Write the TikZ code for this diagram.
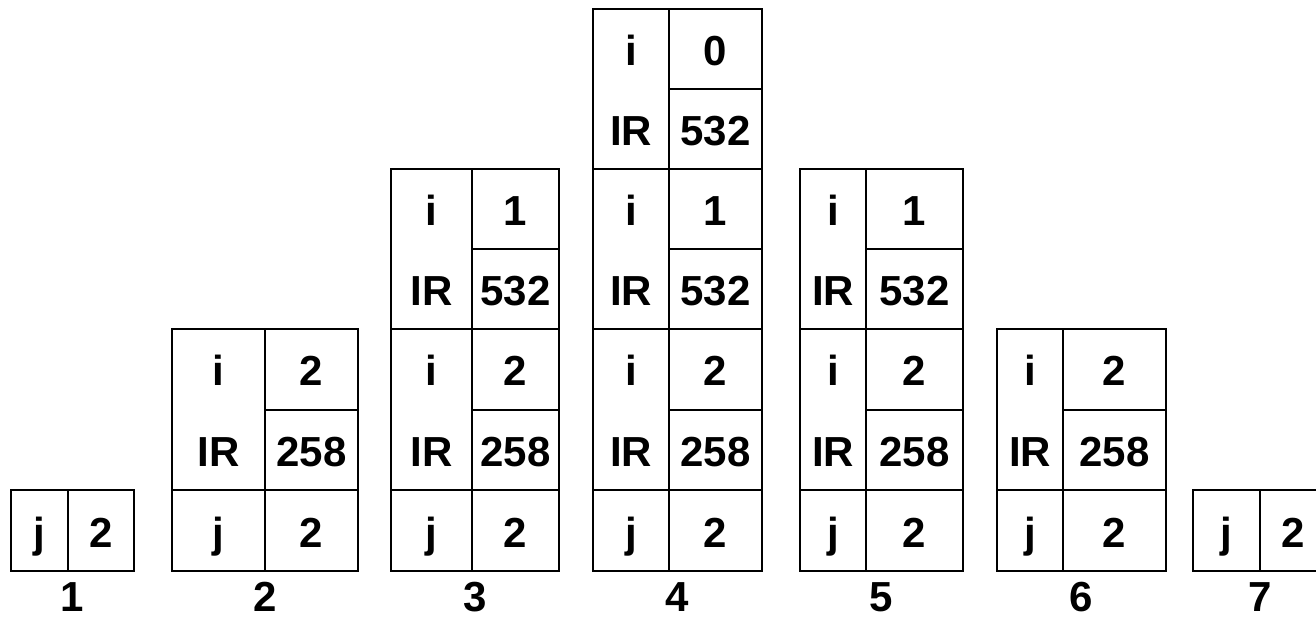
\documentclass[tikz,border=0pt]{standalone}
\usepackage{fontspec}
\setmainfont{Liberation Sans}
\usepackage{tikz}

\begin{document}
\begin{tikzpicture}[
    x=1pt, y=-1pt,
    grid/.style={draw=black, line width=2.8pt, line cap=rect},
    txt/.style={anchor=base, inner sep=0pt, font=\fontsize{42}{48}\selectfont\bfseries}
]
\clip (0,0) rectangle (1316,616);

\draw[grid] (11,490) rectangle (134,571) (68,490) -- (68,571);
\node[txt] (j1) at (39.5,547) {j};
\node[txt] (j1v) at (101,547) {2};
\node[txt] (n1) at (72.5,611) {1};

\draw[grid] (172,329) rectangle (358,571) (265,329) -- (265,571) (172,490) -- (358,490) (265,410) -- (358,410);
\node[txt] (i2a) at (218.5,385) {i};
\node[txt] (i2av) at (311.5,385) {2};
\node[txt] (ir2a) at (218.5,466) {IR};
\node[txt] (ir2av) at (311.5,466) {258};
\node[txt] (j2) at (218.5,547) {j};
\node[txt] (j2v) at (311.5,547) {2};
\node[txt] (n2) at (265,611) {2};

\draw[grid] (391,169) rectangle (559,571) (472,169) -- (472,571) (391,329) -- (559,329) (391,490) -- (559,490) (472,249) -- (559,249) (472,410) -- (559,410);
\node[txt] (i1b) at (431.5,225) {i};
\node[txt] (i1bv) at (515.5,225) {1};
\node[txt] (ir1b) at (431.5,305) {IR};
\node[txt] (ir1bv) at (515.5,305) {532};
\node[txt] (i2b) at (431.5,385) {i};
\node[txt] (i2bv) at (515.5,385) {2};
\node[txt] (ir2b) at (431.5,466) {IR};
\node[txt] (ir2bv) at (515.5,466) {258};
\node[txt] (j3) at (431.5,547) {j};
\node[txt] (j3v) at (515.5,547) {2};
\node[txt] (n3) at (475,611) {3};

\draw[grid] (593,9) rectangle (762,571) (669,9) -- (669,571) (593,169) -- (762,169) (593,329) -- (762,329) (593,490) -- (762,490) (669,89) -- (762,89) (669,249) -- (762,249) (669,410) -- (762,410);
\node[txt] (i0c) at (631,65) {i};
\node[txt] (i0cv) at (715.5,65) {0};
\node[txt] (ir0c) at (631,145) {IR};
\node[txt] (ir0cv) at (715.5,145) {532};
\node[txt] (i1c) at (631,225) {i};
\node[txt] (i1cv) at (715.5,225) {1};
\node[txt] (ir1c) at (631,305) {IR};
\node[txt] (ir1cv) at (715.5,305) {532};
\node[txt] (i2c) at (631,385) {i};
\node[txt] (i2cv) at (715.5,385) {2};
\node[txt] (ir2c) at (631,466) {IR};
\node[txt] (ir2cv) at (715.5,466) {258};
\node[txt] (j4) at (631,547) {j};
\node[txt] (j4v) at (715.5,547) {2};
\node[txt] (n4) at (677.5,611) {4};

\draw[grid] (800,169) rectangle (963,571) (866,169) -- (866,571) (800,329) -- (963,329) (800,490) -- (963,490) (866,249) -- (963,249) (866,410) -- (963,410);
\node[txt] (i1d) at (833,225) {i};
\node[txt] (i1dv) at (914.5,225) {1};
\node[txt] (ir1d) at (833,305) {IR};
\node[txt] (ir1dv) at (914.5,305) {532};
\node[txt] (i2d) at (833,385) {i};
\node[txt] (i2dv) at (914.5,385) {2};
\node[txt] (ir2d) at (833,466) {IR};
\node[txt] (ir2dv) at (914.5,466) {258};
\node[txt] (j5) at (833,547) {j};
\node[txt] (j5v) at (914.5,547) {2};
\node[txt] (n5) at (881.5,611) {5};

\draw[grid] (997,329) rectangle (1166,571) (1063,329) -- (1063,571) (997,490) -- (1166,490) (1063,410) -- (1166,410);
\node[txt] (i2e) at (1030,385) {i};
\node[txt] (i2ev) at (1114.5,385) {2};
\node[txt] (ir2e) at (1030,466) {IR};
\node[txt] (ir2ev) at (1114.5,466) {258};
\node[txt] (j6) at (1030,547) {j};
\node[txt] (j6v) at (1114.5,547) {2};
\node[txt] (n6) at (1081.5,611) {6};

\draw[grid] (1193,490) rectangle (1327,571) (1260,490) -- (1260,571);
\node[txt] (j7) at (1226.5,547) {j};
\node[txt] (j7v) at (1293.5,547) {2};
\node[txt] (n7) at (1260,611) {7};
\end{tikzpicture}
\end{document}
